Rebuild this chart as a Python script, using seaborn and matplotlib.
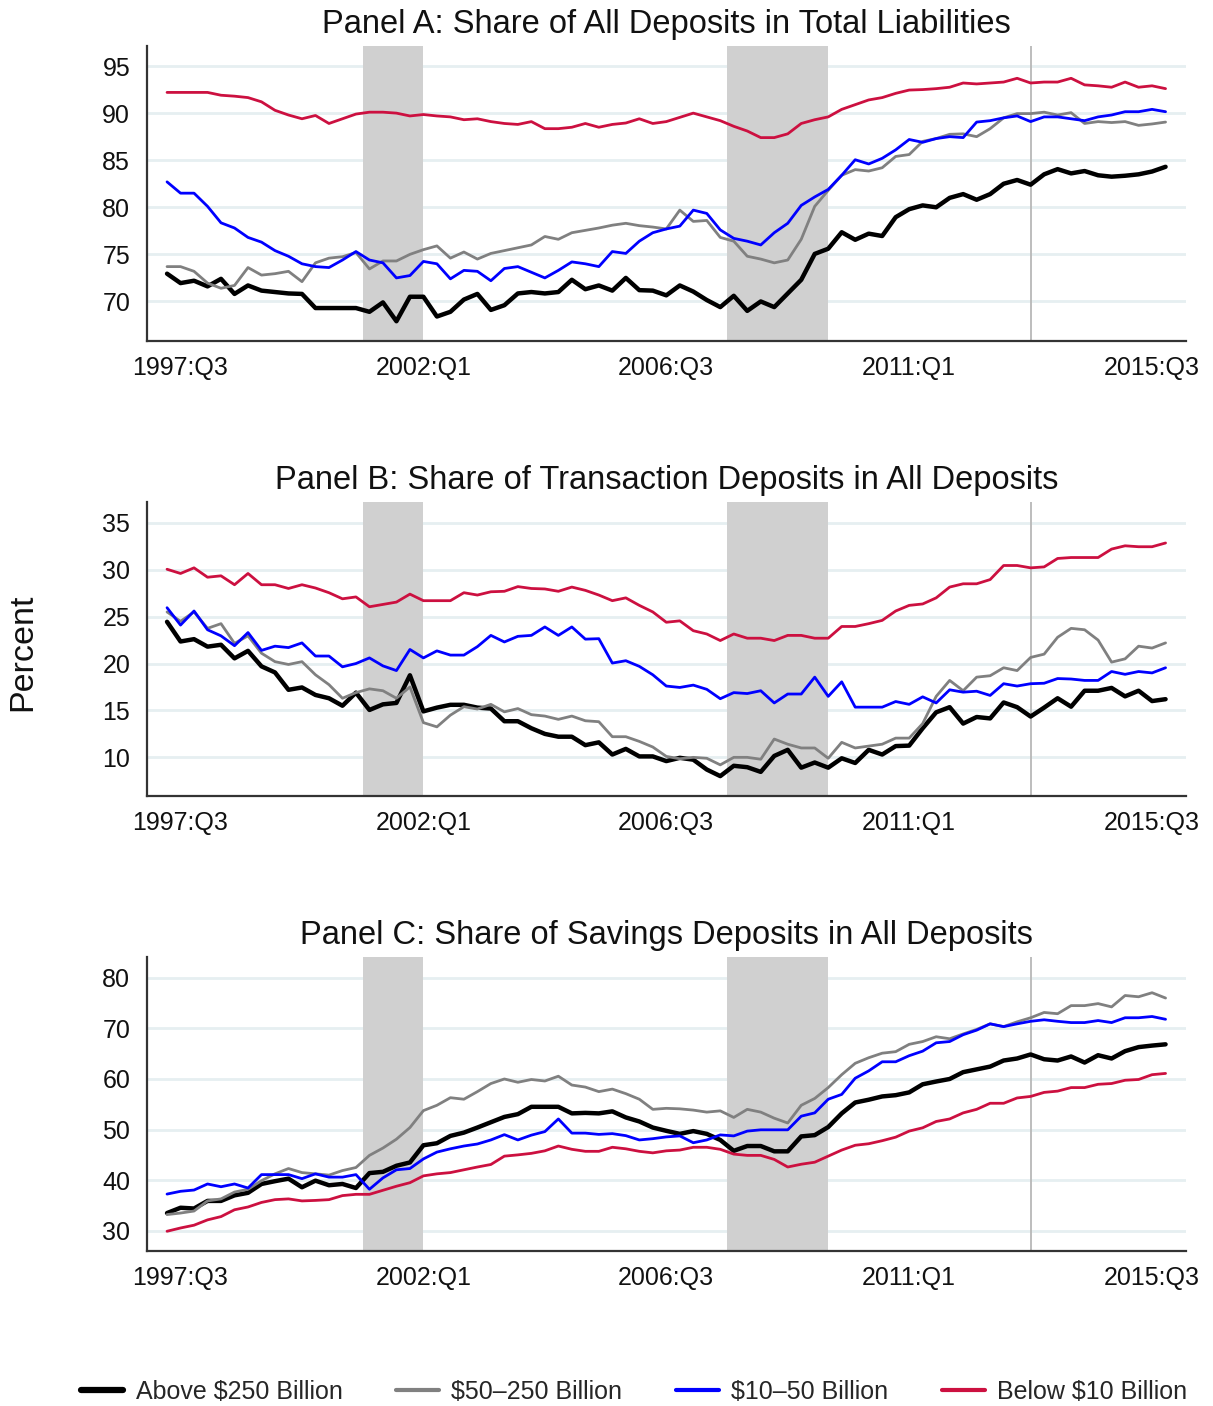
import numpy as np
import pandas as pd
import matplotlib
matplotlib.use("Agg")
import matplotlib.pyplot as plt
import seaborn as sns

# ---------------- data ----------------
# quarters 1997:Q2 ... 2015:Q4 ; x index 0 = 1997:Q3
quarters = [f"{y}:Q{q}" for y in range(1997, 2016) for q in range(1, 5)][1:]
x_idx = list(range(-1, 74))

tick_pos = [0, 18, 36, 54, 72]
tick_labels = ["1997:Q3", "2002:Q1", "2006:Q3", "2011:Q1", "2015:Q3"]
recessions = [(13.5, 18.0), (40.5, 48.0)]
vline_pos = 63

series_names = ["Above $250 Billion", "$50\u2013250 Billion", "$10\u201350 Billion", "Below $10 Billion"]

a_above = [72.95, 71.95, 72.2, 71.6, 72.4, 70.8, 71.7, 71.15, 71.0, 70.85, 70.8, 69.3, 69.3, 69.3, 69.3,
           68.9, 69.9, 67.9, 70.5, 70.5, 68.4, 68.9, 70.2, 70.8, 69.1, 69.6, 70.85, 71.0, 70.85, 71.0,
           72.3, 71.3, 71.7, 71.15, 72.5, 71.2, 71.15, 70.65, 71.7, 71.05, 70.15, 69.4, 70.6, 69.0, 70.0,
           69.4, 70.85, 72.3, 75.05, 75.6, 77.35, 76.55, 77.2, 76.95, 78.95, 79.8, 80.2, 80.0, 81.0, 81.4,
           80.8, 81.4, 82.5, 82.9, 82.4, 83.5, 84.05, 83.6, 83.85, 83.4, 83.25, 83.35, 83.5, 83.8, 84.3]
a_mid = [73.7, 73.7, 73.2, 71.95, 71.4, 71.7, 73.6, 72.8, 72.95, 73.2, 72.1, 74.1, 74.6, 74.75, 75.2,
         73.45, 74.3, 74.3, 75.0, 75.5, 75.9, 74.6, 75.25, 74.5, 75.1, 75.4, 75.7, 76.0, 76.9, 76.6,
         77.3, 77.55, 77.8, 78.1, 78.3, 78.05, 77.9, 77.7, 79.7, 78.5, 78.6, 76.8, 76.4, 74.8, 74.5,
         74.1, 74.4, 76.6, 80.1, 81.8, 83.4, 84.0, 83.85, 84.2, 85.4, 85.6, 87.0, 87.3, 87.75, 87.8,
         87.5, 88.35, 89.5, 89.95, 89.95, 90.1, 89.8, 90.05, 88.9, 89.1, 89.0, 89.1, 88.7, 88.85, 89.05]
a_small = [82.7, 81.5, 81.5, 80.1, 78.35, 77.8, 76.8, 76.3, 75.4, 74.8, 74.0, 73.7, 73.6, 74.4, 75.3,
           74.4, 74.1, 72.5, 72.75, 74.25, 74.0, 72.4, 73.3, 73.2, 72.2, 73.5, 73.7, 73.1, 72.5, 73.3,
           74.2, 74.0, 73.7, 75.3, 75.1, 76.4, 77.3, 77.7, 78.0, 79.7, 79.35, 77.6, 76.7, 76.4, 76.0,
           77.3, 78.3, 80.2, 81.1, 81.9, 83.4, 85.05, 84.6, 85.2, 86.1, 87.2, 86.9, 87.3, 87.5, 87.4,
           89.05, 89.2, 89.5, 89.7, 89.1, 89.6, 89.6, 89.4, 89.2, 89.6, 89.8, 90.15, 90.15, 90.4, 90.15]
a_below = [92.2, 92.2, 92.2, 92.2, 91.9, 91.8, 91.65, 91.2, 90.3, 89.8, 89.4, 89.75, 88.9, 89.4, 89.9,
           90.1, 90.1, 90.0, 89.7, 89.85, 89.7, 89.6, 89.3, 89.4, 89.1, 88.9, 88.8, 89.1, 88.35, 88.35,
           88.5, 88.9, 88.5, 88.8, 88.95, 89.4, 88.9, 89.1, 89.55, 90.0, 89.6, 89.2, 88.6, 88.1, 87.4,
           87.4, 87.8, 88.9, 89.3, 89.6, 90.4, 90.9, 91.4, 91.65, 92.1, 92.45, 92.5, 92.6, 92.75, 93.2,
           93.1, 93.2, 93.3, 93.7, 93.2, 93.3, 93.3, 93.7, 93.0, 92.9, 92.75, 93.3, 92.75, 92.9, 92.6]

b_above = [24.45, 22.35, 22.6, 21.8, 22.0, 20.55, 21.35, 19.7, 19.05, 17.2, 17.45, 16.65, 16.3, 15.5, 16.9,
           15.05, 15.65, 15.8, 18.75, 14.9, 15.3, 15.6, 15.6, 15.3, 15.2, 13.85, 13.85, 13.1, 12.5, 12.2,
           12.2, 11.3, 11.6, 10.3, 10.9, 10.1, 10.1, 9.6, 9.95, 9.75, 8.7, 8.0, 9.1, 8.95, 8.45,
           10.15, 10.8, 8.9, 9.45, 8.9, 9.9, 9.4, 10.8, 10.3, 11.2, 11.25, 13.1, 14.8, 15.35, 13.6,
           14.3, 14.15, 15.85, 15.35, 14.35, 15.3, 16.3, 15.4, 17.1, 17.1, 17.4, 16.5, 17.1, 16.0, 16.2]
b_mid = [25.5, 24.5, 25.5, 23.75, 24.25, 22.15, 22.95, 21.1, 20.2, 19.9, 20.2, 18.8, 17.75, 16.3, 16.9,
         17.3, 17.1, 16.3, 17.5, 13.7, 13.25, 14.5, 15.4, 15.15, 15.65, 14.85, 15.2, 14.55, 14.4, 14.05,
         14.4, 13.9, 13.8, 12.2, 12.2, 11.7, 11.1, 10.1, 9.85, 10.0, 9.9, 9.2, 10.0, 10.0, 9.8,
         11.95, 11.4, 11.0, 11.0, 9.9, 11.6, 11.0, 11.2, 11.4, 12.05, 12.05, 13.6, 16.5, 18.2, 17.1,
         18.55, 18.7, 19.55, 19.25, 20.65, 21.0, 22.8, 23.75, 23.6, 22.5, 20.15, 20.5, 21.85, 21.65, 22.2]
b_small = [25.95, 24.1, 25.6, 23.6, 22.95, 21.9, 23.3, 21.4, 21.85, 21.7, 22.2, 20.8, 20.8, 19.65, 20.0,
           20.6, 19.75, 19.25, 21.5, 20.6, 21.35, 20.9, 20.9, 21.8, 23.0, 22.3, 22.9, 23.0, 23.9, 23.0,
           23.9, 22.6, 22.65, 20.05, 20.3, 19.7, 18.8, 17.6, 17.45, 17.7, 17.25, 16.25, 16.9, 16.8, 17.1,
           15.8, 16.75, 16.75, 18.55, 16.5, 18.05, 15.35, 15.35, 15.35, 15.95, 15.65, 16.45, 15.8, 17.2, 16.95,
           17.05, 16.6, 17.85, 17.6, 17.85, 17.9, 18.4, 18.35, 18.2, 18.2, 19.15, 18.85, 19.15, 19.0, 19.55]
b_below = [30.05, 29.6, 30.2, 29.2, 29.35, 28.4, 29.6, 28.4, 28.4, 28.0, 28.4, 28.05, 27.55, 26.9, 27.1,
           26.05, 26.3, 26.55, 27.4, 26.7, 26.7, 26.7, 27.55, 27.3, 27.65, 27.7, 28.2, 28.0, 27.95, 27.7,
           28.15, 27.8, 27.3, 26.7, 27.0, 26.2, 25.5, 24.4, 24.55, 23.5, 23.15, 22.45, 23.15, 22.7, 22.7,
           22.45, 23.0, 23.0, 22.7, 22.7, 23.95, 23.95, 24.25, 24.6, 25.6, 26.2, 26.35, 27.0, 28.15, 28.5,
           28.5, 28.95, 30.45, 30.45, 30.2, 30.3, 31.2, 31.3, 31.3, 31.3, 32.2, 32.55, 32.45, 32.45, 32.85]

c_above = [33.5, 34.55, 34.4, 35.9, 35.9, 37.0, 37.5, 39.25, 39.8, 40.3, 38.6, 39.9, 39.0, 39.25, 38.45,
           41.4, 41.65, 42.85, 43.5, 46.9, 47.3, 48.75, 49.4, 50.4, 51.45, 52.5, 53.05, 54.5, 54.5, 54.5,
           53.2, 53.3, 53.2, 53.6, 52.4, 51.6, 50.4, 49.75, 49.15, 49.7, 49.15, 47.95, 45.8, 46.75, 46.75,
           45.7, 45.7, 48.65, 48.9, 50.5, 53.2, 55.35, 55.9, 56.55, 56.8, 57.35, 58.95, 59.5, 60.0, 61.35,
           61.9, 62.45, 63.65, 64.05, 64.85, 63.9, 63.65, 64.45, 63.25, 64.7, 64.05, 65.5, 66.3, 66.6, 66.85]
c_mid = [33.2, 33.5, 33.9, 35.9, 36.3, 37.65, 38.2, 39.9, 41.25, 42.3, 41.5, 41.25, 41.0, 41.9, 42.5,
         44.9, 46.35, 48.1, 50.4, 53.75, 54.8, 56.3, 56.0, 57.5, 59.1, 60.0, 59.35, 59.9, 59.6, 60.55,
         58.8, 58.4, 57.5, 58.0, 57.1, 56.0, 54.0, 54.2, 54.1, 53.85, 53.45, 53.7, 52.4, 54.0, 53.45,
         52.25, 51.3, 54.8, 56.15, 58.3, 60.85, 63.1, 64.2, 65.1, 65.4, 66.85, 67.4, 68.35, 67.95, 68.9,
         69.8, 70.9, 70.35, 71.3, 72.1, 73.15, 72.9, 74.5, 74.5, 74.9, 74.25, 76.5, 76.25, 77.05, 76.0]
c_small = [37.25, 37.8, 38.05, 39.25, 38.7, 39.25, 38.45, 41.1, 41.1, 41.1, 40.3, 41.25, 40.6, 40.6, 41.1,
           38.2, 40.45, 42.05, 42.3, 44.2, 45.55, 46.2, 46.75, 47.15, 47.95, 49.0, 47.95, 48.9, 49.6, 52.1,
           49.3, 49.3, 49.05, 49.2, 48.8, 47.95, 48.2, 48.55, 48.75, 47.4, 47.95, 48.95, 48.75, 49.7, 49.95,
           49.95, 49.95, 52.65, 53.3, 56.0, 56.95, 60.15, 61.6, 63.4, 63.4, 64.6, 65.5, 67.15, 67.4, 68.75,
           69.65, 70.9, 70.35, 70.9, 71.4, 71.7, 71.4, 71.15, 71.15, 71.55, 71.15, 72.1, 72.1, 72.35, 71.8]
c_below = [29.9, 30.55, 31.1, 32.15, 32.8, 34.15, 34.7, 35.6, 36.15, 36.3, 35.9, 36.0, 36.15, 36.95, 37.2,
           37.2, 38.0, 38.8, 39.5, 40.85, 41.25, 41.5, 42.05, 42.6, 43.1, 44.75, 45.0, 45.3, 45.8, 46.75,
           46.1, 45.7, 45.7, 46.5, 46.2, 45.7, 45.4, 45.8, 45.95, 46.5, 46.5, 46.1, 45.15, 44.9, 44.9,
           44.1, 42.6, 43.15, 43.55, 44.75, 45.95, 46.9, 47.2, 47.8, 48.5, 49.7, 50.35, 51.6, 52.1, 53.3,
           54.0, 55.2, 55.2, 56.25, 56.55, 57.35, 57.6, 58.3, 58.3, 58.95, 59.1, 59.75, 59.9, 60.85, 61.1]

panel_titles = ["Panel A: Share of All Deposits in Total Liabilities",
                "Panel B: Share of Transaction Deposits in All Deposits",
                "Panel C: Share of Savings Deposits in All Deposits"]
panel_data = [[a_above, a_mid, a_small, a_below],
              [b_above, b_mid, b_small, b_below],
              [c_above, c_mid, c_small, c_below]]
panel_yticks = [[70, 75, 80, 85, 90, 95], [10, 15, 20, 25, 30, 35], [30, 40, 50, 60, 70, 80]]
panel_ylim = [(65.8, 97.15), (5.88, 37.24), (26.0, 84.15)]

# ---------------- style ----------------
sns.set_theme(style="white")
plt.rcParams['font.family'] = ['Liberation Sans', 'DejaVu Sans']

colors = ["#000000", "#808080", "#0000ff", "#cc1040"]
widths = [3.2, 2.0, 2.0, 2.0]
spine_c = "#333333"
FS = 18

W, H = 1213, 1406
fig = plt.figure(figsize=(W / 100, H / 100), dpi=100)

axes_px = [(45.8, 341.0), (501.8, 796.0), (956.8, 1251.0)]
left_px, right_px = 146.8, 1185.8

handles = []
for i in range(3):
    top, bot = axes_px[i]
    ax = fig.add_axes([left_px / W, 1 - bot / H, (right_px - left_px) / W, (bot - top) / H])
    for t in panel_yticks[i]:
        ax.axhline(t, color="#e6eff1", lw=2.0, zorder=0)
    for (s, e) in recessions:
        ax.axvspan(s, e, color="#d0d0d0", lw=0, zorder=1)
    ax.axvline(vline_pos, color="#b8b8b8", lw=1.3, zorder=1)
    for j in range(4):
        df = pd.DataFrame({"x": x_idx, "y": panel_data[i][j]})
        sns.lineplot(data=df, x="x", y="y", ax=ax, color=colors[j], lw=widths[j],
                     zorder=3 + j, label=series_names[j], legend=False)
    if i == 0:
        handles = ax.get_lines()[-4:]
    ax.set_xlim(-2.5, 74.5)
    ax.set_ylim(*panel_ylim[i])
    ax.set_xticks(tick_pos)
    ax.set_xticklabels(tick_labels, fontsize=FS)
    ax.set_yticks(panel_yticks[i])
    ax.set_yticklabels([str(t) for t in panel_yticks[i]], fontsize=FS)
    ax.set_xlabel("")
    ax.set_ylabel("")
    ax.tick_params(axis="both", direction="out", length=9, width=1.5, color=spine_c,
                   labelcolor="#111111", pad=3)
    ax.tick_params(axis="x", pad=1.5)
    for sp in ["top", "right"]:
        ax.spines[sp].set_visible(False)
    for sp in ["left", "bottom"]:
        ax.spines[sp].set_color(spine_c)
        ax.spines[sp].set_linewidth(1.6)
    ax.set_title(panel_titles[i], fontsize=23.5, pad=9, color="#111111")

fig.text(23 / W, 1 - 652 / H, "Percent", rotation=90, fontsize=24.5, ha="center", va="center",
         color="#111111")

leg = fig.legend(handles, series_names, loc="center", bbox_to_anchor=(634 / W, 1 - 1392 / H),
                 ncol=4, frameon=False, fontsize=FS, handlelength=1.7, handletextpad=0.5,
                 columnspacing=2.15)
for lh, lw in zip(leg.get_lines(), [4.5, 3.0, 3.0, 3.0]):
    lh.set_linewidth(lw)

fig.savefig("out.png", dpi=100)
